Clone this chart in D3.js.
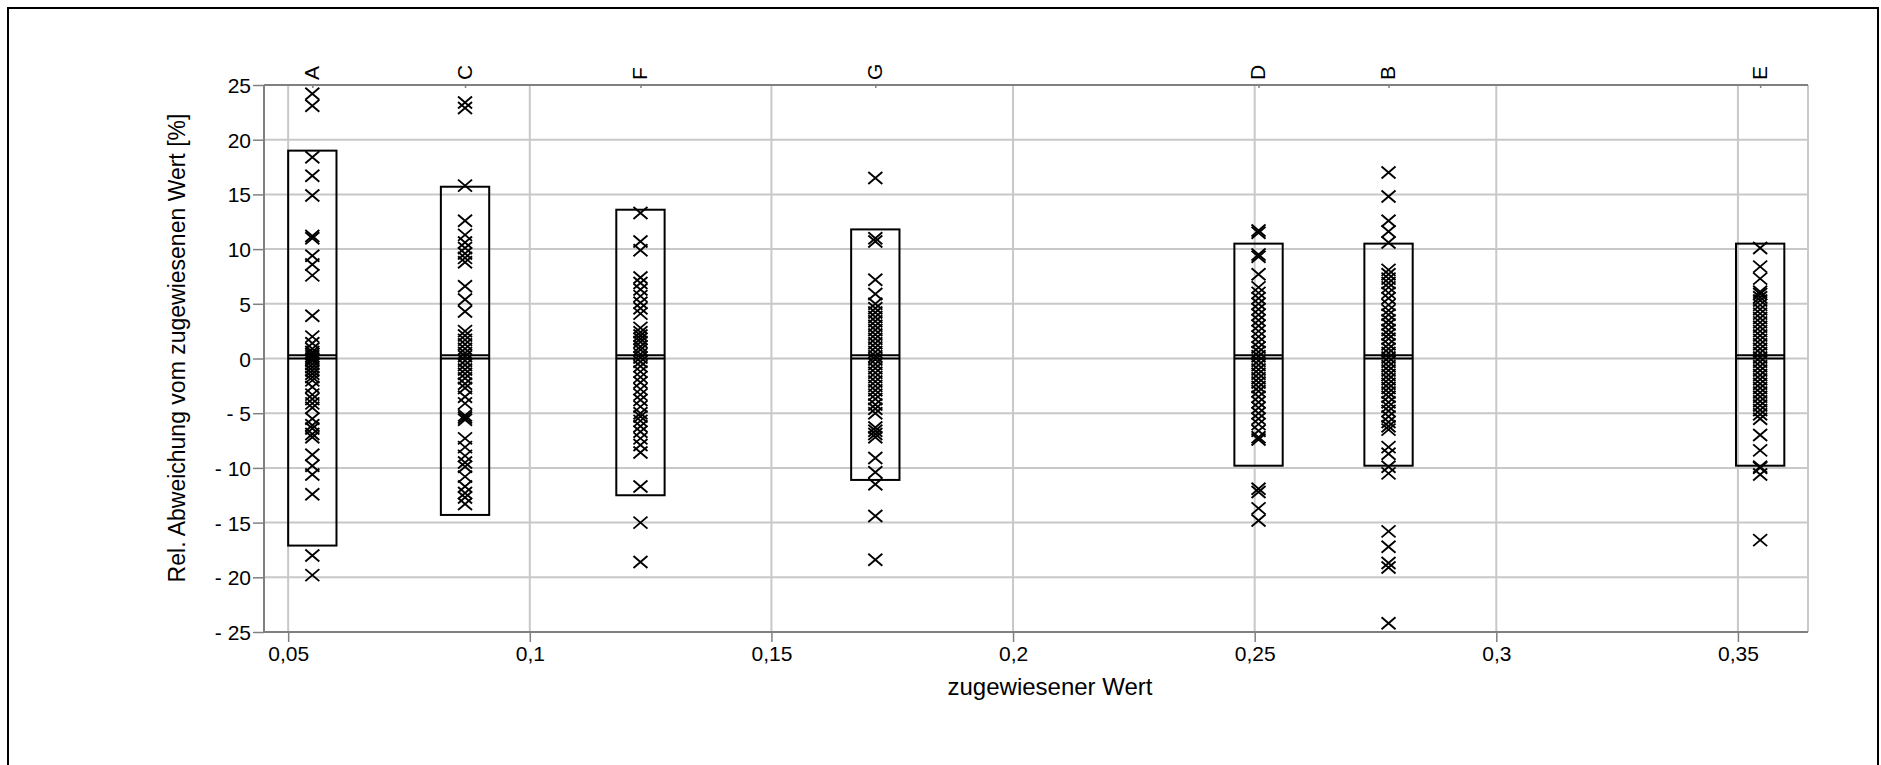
<!DOCTYPE html>
<meta charset="utf-8">
<style>
body { margin: 0; background: #fff; }
svg { display: block; font-family: 'Liberation Sans', Arial, sans-serif; }
.grid line { stroke: #c8c8c8; stroke-width: 2; }
.box { fill: none; stroke: #000; stroke-width: 2; }
.cross { fill: none; stroke: #000; stroke-width: 1.9; }
</style>
<body>
<div id="chart"></div>
<script src="https://cdn.jsdelivr.net/npm/d3@7"></script>
<script>
// categories along the top axis, with their assigned value
var categories = ['A', 'C', 'F', 'G', 'D', 'B', 'E'];
var assigned = [0.055, 0.0866, 0.1229, 0.1715, 0.2508, 0.2777, 0.3546];
var boxHigh = [19.0, 15.7, 13.6, 11.8, 10.5, 10.5, 10.5];
var boxLow = [-17.1, -14.3, -12.5, -11.1, -9.8, -9.8, -9.8];
var boxMid = [0.3, 0.3, 0.3, 0.3, 0.3, 0.3, 0.3];

var xTicks = [0.05, 0.1, 0.15, 0.2, 0.25, 0.3, 0.35];
var yTicks = [-25, -20, -15, -10, -5, 0, 5, 10, 15, 20, 25];

// relative deviation of each result [%]
var ptsA = [24.2, 23.1, 18.4, 16.7, 14.9, 11.2, 11.0, 9.4, 8.6, 7.6, 3.9, 2.0, 1.4, 0.9, 0.6, 0.4, 0.2, 0.0,
  -0.2, -0.5, -0.8, -1.1, -1.4, -1.7, -2.0, -2.6, -3.3, -3.7, -4.1, -4.5, -5.5, -6.1, -6.4, -6.9, -7.2,
  -8.8, -9.8, -10.6, -12.4, -18.0, -19.8];
var ptsC = [23.4, 22.9, 15.8, 12.6, 11.3, 10.6, 10.1, 9.6, 9.2, 8.8, 6.6, 5.4, 4.3, 2.5, 2.1, 1.7, 1.3, 0.9,
  0.5, 0.2, -0.2, -0.6, -1.0, -1.4, -1.8, -2.3, -2.7, -3.5, -4.1, -5.2, -5.4, -5.6, -7.3, -8.1, -8.9, -9.5,
  -9.9, -10.8, -11.7, -12.3, -12.7, -13.3];
var ptsF = [13.3, 10.7, 9.9, 7.4, 6.9, 6.3, 5.7, 5.1, 4.6, 4.1, 2.8, 2.4, 2.1, 1.8, 1.5, 1.1, 0.8, 0.4, 0.1,
  -0.3, -0.7, -1.2, -1.7, -2.2, -2.8, -3.3, -3.8, -4.4, -5.0, -5.3, -5.7, -6.2, -6.7, -7.3, -7.9, -8.6,
  -11.7, -15.0, -18.6];
var ptsG = [16.5, 11.0, 10.7, 7.2, 5.9, 5.0, 4.6, 4.2, 3.8, 3.4, 3.0, 2.6, 2.2, 1.8, 1.4, 1.0, 0.6, 0.2,
  -0.1, -0.5, -0.9, -1.3, -1.7, -2.1, -2.5, -2.9, -3.3, -3.7, -4.2, -4.6, -5.0, -6.3, -6.6, -6.9, -7.2,
  -9.1, -10.4, -11.5, -14.4, -18.4];
var ptsD = [11.7, 11.5, 9.5, 9.3, 7.7, 6.5, 6.0, 5.5, 5.0, 4.5, 4.0, 3.5, 3.0, 2.5, 2.0, 1.5, 1.0, 0.6, 0.2,
  -0.2, -0.6, -1.0, -1.4, -1.8, -2.2, -2.6, -3.0, -3.5, -4.0, -4.5, -5.0, -5.5, -6.0, -6.6, -7.2, -7.4,
  -11.9, -12.2, -13.7, -14.8];
var ptsB = [17.0, 14.8, 12.6, 11.6, 10.6, 8.1, 7.7, 7.3, 6.9, 6.5, 6.0, 5.5, 4.9, 4.4, 4.0, 3.5, 3.1, 2.6,
  2.2, 1.8, 1.3, 0.9, 0.5, 0.1, -0.3, -0.7, -1.1, -1.5, -1.9, -2.3, -2.7, -3.1, -3.5, -4.0, -4.4, -4.8,
  -5.3, -5.8, -6.2, -6.5, -8.1, -8.7, -9.9, -10.5, -15.8, -17.2, -18.7, -19.1, -24.2];
var ptsE = [10.1, 8.4, 7.3, 6.1, 5.9, 5.6, 5.3, 4.9, 4.5, 4.1, 3.7, 3.3, 2.9, 2.5, 2.1, 1.7, 1.3, 0.9, 0.5,
  0.1, -0.3, -0.7, -1.1, -1.5, -1.9, -2.3, -2.7, -3.1, -3.5, -3.9, -4.3, -4.7, -5.1, -5.5, -7.0, -8.4,
  -9.9, -10.0, -10.6, -16.6];
var points = [ptsA, ptsC, ptsF, ptsG, ptsD, ptsB, ptsE];

var W = 1881, H = 765;
var pl = 264, pr = 1808, pt = 85, pb = 632;

var svg = d3.select('#chart')
            .append('svg')
            .attr('width', W)
            .attr('height', H);

// outer frame, its bottom edge runs off the picture
svg.append('rect')
   .attr('x', 8).attr('y', 8)
   .attr('width', 1870).attr('height', 800)
   .attr('fill', 'none')
   .attr('stroke', '#000')
   .attr('stroke-width', 2);

var x = d3.scaleLinear().domain([0.045, 0.3645]).range([pl, pr]);
var y = d3.scaleLinear().domain([-25, 25]).range([pb, pt]);

// grid
var grid = svg.append('g').attr('class', 'grid');
grid.selectAll('.gx')
    .data(xTicks)
  .enter().append('line')
    .attr('x1', function(d) { return x(d); })
    .attr('x2', function(d) { return x(d); })
    .attr('y1', pt).attr('y2', pb);
grid.selectAll('.gy')
    .data(yTicks)
  .enter().append('line')
    .attr('x1', pl).attr('x2', pr)
    .attr('y1', function(d) { return y(d); })
    .attr('y2', function(d) { return y(d); });
grid.append('line')
    .attr('x1', pr).attr('x2', pr)
    .attr('y1', pt).attr('y2', pb);

// axes
var yAxis = d3.axisLeft(y)
  .tickValues(yTicks)
  .tickSize(11)
  .tickPadding(2)
  .tickFormat(function(d) { return d < 0 ? '- ' + (-d) : d; });

var xAxis = d3.axisBottom(x)
  .tickValues(xTicks)
  .tickSize(10)
  .tickPadding(4)
  .tickFormat(function(d) { return String(+d.toFixed(2)).replace('.', ','); });

var topAxis = d3.axisTop(x)
  .tickValues(assigned)
  .tickSize(-3)
  .tickFormat(function(d, i) { return categories[i]; });

var gy = svg.append('g').attr('transform', 'translate(' + pl + ',0)').call(yAxis);
var gx = svg.append('g').attr('transform', 'translate(0,' + pb + ')').call(xAxis);
var gt = svg.append('g').attr('transform', 'translate(0,' + pt + ')').call(topAxis);

[gy, gx, gt].forEach(function(g) {
  g.attr('font-family', null).attr('font-size', 21);
  g.select('.domain').attr('stroke', '#808080').attr('stroke-width', 2);
  g.selectAll('.tick line').attr('stroke', '#808080').attr('stroke-width', 1.5);
  g.selectAll('.tick text').attr('fill', '#000');
});
gt.select('.domain').attr('d', 'M' + pl + ',0H' + pr);
gy.select('.domain').attr('d', 'M0,' + pt + 'V' + pb);
gx.select('.domain').attr('d', 'M' + pl + ',0H' + pr);
gy.selectAll('.tick text').attr('dy', '0.36em');
gt.selectAll('.tick text')
  .attr('transform', 'rotate(-90)')
  .attr('text-anchor', 'start')
  .attr('x', 5)
  .attr('y', 6)
  .attr('dy', 0);

// boxes
var boxW = 0.01;
var boxes = svg.append('g');
categories.forEach(function(c, i) {
  boxes.append('rect')
    .attr('class', 'box')
    .attr('x', x(assigned[i] - boxW / 2))
    .attr('width', x(assigned[i] + boxW / 2) - x(assigned[i] - boxW / 2))
    .attr('y', y(boxHigh[i]))
    .attr('height', y(boxLow[i]) - y(boxHigh[i]));
  [0, boxMid[i]].forEach(function(v) {
    boxes.append('line')
      .attr('class', 'box')
      .attr('x1', x(assigned[i] - boxW / 2))
      .attr('x2', x(assigned[i] + boxW / 2))
      .attr('y1', y(v)).attr('y2', y(v));
  });
});

// crosses
var cross = 'M-7,-6L7,6M-7,6L7,-6';
points.forEach(function(arr, i) {
  svg.append('g').selectAll('path')
    .data(arr)
  .enter().append('path')
    .attr('class', 'cross')
    .attr('transform', function(d) { return 'translate(' + x(assigned[i]) + ',' + y(d) + ')'; })
    .attr('d', cross);
});

// titles
svg.append('text')
   .attr('x', (pl + pr) / 2 + 14)
   .attr('y', 695)
   .attr('text-anchor', 'middle')
   .style('font-size', '24px')
   .text('zugewiesener Wert');

svg.append('text')
   .attr('transform', 'translate(185,348) rotate(-90)')
   .attr('text-anchor', 'middle')
   .style('font-size', '23px')
   .text('Rel. Abweichung vom zugewiesenen Wert [%]');
</script>
</body>
